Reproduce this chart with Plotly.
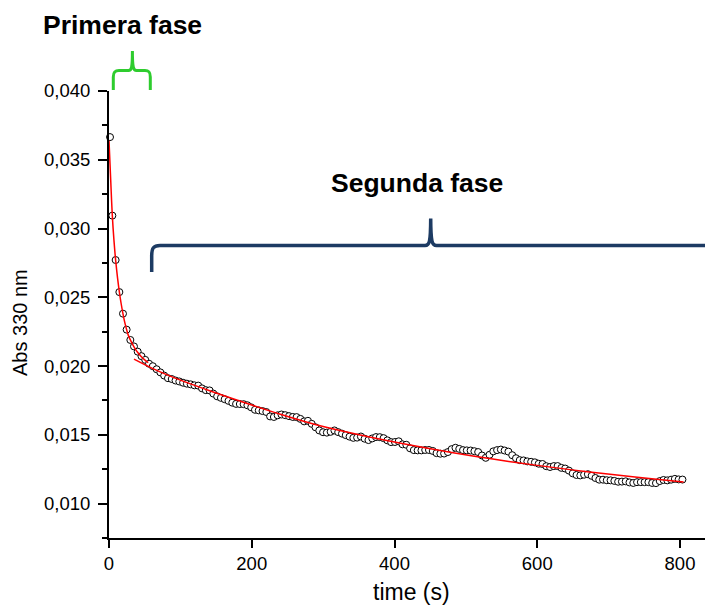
import plotly.graph_objects as go

# ---------------- data ----------------
time_s = [1.4, 4.7, 9.3, 14.5, 19.6, 24.7, 29.9, 35.0, 40.2,
          45.5, 50.8, 56.1, 61.4, 66.7, 72.0, 77.3, 82.6, 87.9, 93.2,
          98.5, 103.8, 109.1, 114.4, 119.7, 125.0, 130.3, 135.6, 140.9, 146.2,
          151.5, 156.8, 162.1, 167.4, 172.7, 178.0, 183.3, 188.6, 193.9, 199.2,
          204.5, 209.8, 215.1, 220.4, 225.7, 231.0, 236.3, 241.6, 246.9, 252.2,
          257.5, 262.8, 268.1, 273.4, 278.7, 284.0, 289.3, 294.6, 299.9, 305.2,
          310.5, 315.8, 321.1, 326.4, 331.7, 337.0, 342.3, 347.6, 352.9, 358.2,
          363.5, 368.8, 374.1, 379.4, 384.7, 390.0, 395.3, 400.6, 405.9, 411.2,
          416.5, 421.8, 427.1, 432.4, 437.7, 443.0, 448.3, 453.6, 458.9, 464.2,
          469.5, 474.8, 480.1, 485.4, 490.7, 496.0, 501.3, 506.6, 511.9, 517.2,
          522.5, 527.8, 533.1, 538.4, 543.7, 549.0, 554.3, 559.6, 564.9, 570.2,
          575.5, 580.8, 586.1, 591.4, 596.7, 602.0, 607.3, 612.6, 617.9, 623.2,
          628.5, 633.8, 639.1, 644.4, 649.7, 655.0, 660.3, 665.6, 670.9, 676.2,
          681.5, 686.8, 692.1, 697.4, 702.7, 708.0, 713.3, 718.6, 723.9, 729.2,
          734.5, 739.8, 745.1, 750.4, 755.7, 761.0, 766.3, 771.6, 776.9, 782.2,
          787.5, 792.8, 798.1, 803.4]

abs_330 = [0.03665, 0.03094, 0.02771, 0.02538, 0.02381, 0.02265, 0.02190, 0.02143, 0.02105,
           0.02072, 0.02045, 0.02017, 0.01999, 0.01977, 0.01954, 0.01931, 0.01912, 0.01906, 0.01895,
           0.01888, 0.01879, 0.01872, 0.01867, 0.01860, 0.01858, 0.01838, 0.01825, 0.01823, 0.01800,
           0.01780, 0.01769, 0.01759, 0.01747, 0.01734, 0.01725, 0.01724, 0.01723, 0.01715, 0.01700,
           0.01682, 0.01678, 0.01673, 0.01666, 0.01634, 0.01630, 0.01642, 0.01648, 0.01643, 0.01636,
           0.01630, 0.01629, 0.01616, 0.01598, 0.01602, 0.01580, 0.01555, 0.01532, 0.01519, 0.01516,
           0.01522, 0.01532, 0.01520, 0.01509, 0.01498, 0.01487, 0.01478, 0.01480, 0.01488, 0.01472,
           0.01462, 0.01474, 0.01484, 0.01483, 0.01476, 0.01460, 0.01447, 0.01448, 0.01453, 0.01431,
           0.01428, 0.01402, 0.01389, 0.01387, 0.01387, 0.01390, 0.01390, 0.01383, 0.01367, 0.01363,
           0.01364, 0.01375, 0.01396, 0.01406, 0.01398, 0.01389, 0.01387, 0.01386, 0.01381, 0.01375,
           0.01350, 0.01333, 0.01355, 0.01380, 0.01389, 0.01393, 0.01386, 0.01378, 0.01352, 0.01330,
           0.01316, 0.01314, 0.01307, 0.01304, 0.01300, 0.01290, 0.01288, 0.01272, 0.01266, 0.01273,
           0.01273, 0.01260, 0.01255, 0.01240, 0.01220, 0.01208, 0.01205, 0.01210, 0.01214, 0.01202,
           0.01186, 0.01174, 0.01174, 0.01170, 0.01169, 0.01165, 0.01159, 0.01160, 0.01162, 0.01154,
           0.01150, 0.01156, 0.01156, 0.01156, 0.01156, 0.01150, 0.01149, 0.01164, 0.01172, 0.01169,
           0.01174, 0.01180, 0.01176, 0.01175]

# fit of the first (fast) phase
fit1_time = [0, 2.5, 4.7, 7, 9.3, 12, 14.5, 17, 19.6, 22, 24.7, 27, 29.9, 35, 40, 45, 50, 55]
fit1_abs = [0.03640, 0.03340, 0.03090, 0.02910, 0.02770, 0.02640, 0.02540, 0.02455, 0.02380,
            0.02320, 0.02265, 0.02225, 0.02190, 0.02140, 0.02100, 0.02070, 0.02045, 0.02025]

# fit of the second (slow) phase
fit2_time = [35, 60, 90, 135, 180, 240, 300, 360, 420, 480, 540, 600, 670, 740, 805]
fit2_abs = [0.02050, 0.01985, 0.01918, 0.01832, 0.01752, 0.01650, 0.01560, 0.01490, 0.01428,
            0.01372, 0.01322, 0.01278, 0.01232, 0.01192, 0.01158]

x_ticks = [0, 200, 400, 600, 800]
y_ticks = [0.010, 0.015, 0.020, 0.025, 0.030, 0.035, 0.040]

FONT = "Arial, Liberation Sans, sans-serif"

# plot-area geometry (pixels)
W, H = 705, 605
ML, MR, MT, MB = 109, 0, 91, 67
PW, PH = W - ML - MR, H - MT - MB


def px(x):
    return (x - ML) / PW


def py(y):
    return (H - MB - y) / PH


def path(points_cmds):
    out = []
    for cmd, pts in points_cmds:
        coords = " ".join(f"{px(a):.5f},{py(b):.5f}" for a, b in pts)
        out.append(f"{cmd} {coords}")
    return " ".join(out)


fig = go.Figure()

fig.add_trace(go.Scatter(
    x=time_s, y=abs_330, mode="markers",
    marker=dict(symbol="circle", size=7, color="white",
                line=dict(color="black", width=1)),
    showlegend=False, cliponaxis=False))

fig.add_trace(go.Scatter(
    x=fit1_time, y=fit1_abs, mode="lines",
    line=dict(color="#FF0000", width=1.5, shape="spline"),
    showlegend=False))

fig.add_trace(go.Scatter(
    x=fit2_time, y=fit2_abs, mode="lines",
    line=dict(color="#FF0000", width=1.5, shape="spline"),
    showlegend=False))

# braces
green_brace = path([
    ("M", [(113.3, 90)]),
    ("L", [(113.3, 77)]),
    ("C", [(113.3, 72), (115, 70.5), (119, 70.5)]),
    ("L", [(128.5, 70.5)]),
    ("C", [(131.5, 70.5), (132.4, 68), (132.4, 51)]),
    ("C", [(132.4, 68), (133.5, 70.5), (136.5, 70.5)]),
    ("L", [(145, 70.5)]),
    ("C", [(149, 70.5), (150.3, 72), (150.3, 77)]),
    ("L", [(150.3, 90)]),
])
blue_brace = path([
    ("M", [(151.7, 272)]),
    ("L", [(151.7, 256)]),
    ("C", [(151.7, 248), (153.5, 245.5), (160, 245.5)]),
    ("L", [(425, 245.5)]),
    ("C", [(429.5, 245.5), (430.6, 242), (430.7, 218.5)]),
    ("C", [(430.8, 242), (432, 245.5), (436.5, 245.5)]),
    ("L", [(710, 245.5)]),
])

fig.add_shape(type="path", xref="paper", yref="paper", path=green_brace,
              line=dict(color="#2ECC2E", width=3))
fig.add_shape(type="path", xref="paper", yref="paper", path=blue_brace,
              line=dict(color="#1D3B63", width=3.5))

annotations = [
    dict(text="<b>Primera fase</b>", x=px(122.5), y=py(25), size=26.5),
    dict(text="<b>Segunda fase</b>", x=px(416.7), y=py(183), size=26.5),
    dict(text="time (s)", x=px(411.5), y=py(592), size=23),
    dict(text="Abs 330 nm", x=px(20), y=py(323), size=20, textangle=-90),
]
for a in annotations:
    fig.add_annotation(xref="paper", yref="paper", showarrow=False,
                       xanchor="center", yanchor="middle",
                       font=dict(family=FONT, color="black", size=a["size"]),
                       text=a["text"], x=a["x"], y=a["y"],
                       textangle=a.get("textangle", 0))

fig.update_layout(
    width=W, height=H,
    margin=dict(l=ML, r=MR, t=MT, b=MB, pad=0),
    paper_bgcolor="white", plot_bgcolor="white",
    separators=",.",
    font=dict(family=FONT, color="black", size=18.5),
    xaxis=dict(range=[0, 835], tickvals=x_ticks, ticks="outside", ticklen=8, tickwidth=2,
               tickcolor="black", showline=True, linewidth=2, linecolor="black",
               showgrid=False, zeroline=False, tickfont=dict(size=18.5, color="black")),
    yaxis=dict(range=[0.0075, 0.040], tickvals=y_ticks, tickformat=".3f", ticks="outside",
               ticklen=9, tickwidth=2, tickcolor="black", showline=True, linewidth=2,
               linecolor="black", showgrid=False, zeroline=False, ticklabelstandoff=4,
               tickfont=dict(size=18.5, color="black"),
               minor=dict(ticks="outside", ticklen=5, tickwidth=2, tickcolor="black",
                          dtick=0.0025, tick0=0.0075)),
)

fig.write_html("out.html")
